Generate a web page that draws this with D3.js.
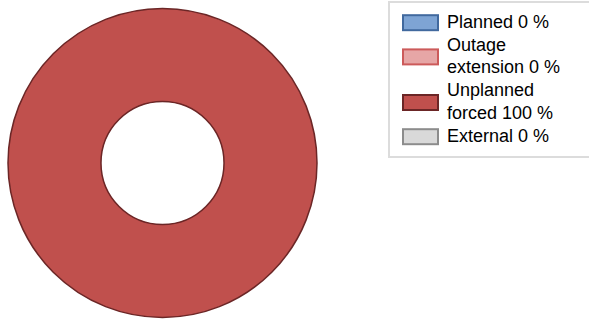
<!DOCTYPE html>
<html>
<head>
<meta charset="utf-8">
<script src="https://cdn.jsdelivr.net/npm/d3@7"></script>
<style>
  html, body { margin: 0; padding: 0; background: #fff; }
  svg { display: block; }
</style>
</head>
<body>
<svg id="chart" width="589" height="320"></svg>
<script>
const categories = ["Planned", "Outage extension", "Unplanned forced", "External"];
const values = [0, 0, 100, 0];
const fills = ["#7ea4d4", "#e6a6a6", "#c0504d", "#d9d9d9"];
const strokes = ["#41699e", "#cc5a5a", "#6b2626", "#8c8c8c"];

const svg = d3.select("#chart");
const cx = 162.5, cy = 163, outerR = 154.5, innerR = 61.5;

const pie = d3.pie().sort(null).value(d => d)(values);
const arc = d3.arc().innerRadius(innerR).outerRadius(outerR);

svg.append("g").attr("transform", `translate(${cx},${cy})`)
  .selectAll("path").data(pie.filter(p => p.value > 0)).join("path")
  .attr("d", arc)
  .attr("fill", d => fills[d.index])
  .attr("stroke", d => strokes[d.index])
  .attr("stroke-width", 1.5);

// legend
const lg = svg.append("g");
lg.append("rect").attr("x", 389).attr("y", 2).attr("width", 210).attr("height", 155)
  .attr("fill", "#fff").attr("stroke", "#dcdcdc").attr("stroke-width", 2);

const total = d3.sum(values);
const labels = categories.map((c, i) => `${c} ${Math.round(values[i] / total * 100)} %`);
const fontSize = 18, lineH = 22.8, maxW = 132, textX = 447;

const meas = svg.append("text").attr("font-family", "Liberation Sans, Arial, sans-serif").attr("font-size", fontSize);
function wrap(str) {
  const words = str.split(" ");
  const lines = [];
  let cur = "";
  words.forEach(w => {
    const t = cur ? cur + " " + w : w;
    meas.text(t);
    if (meas.node().getComputedTextLength() > maxW && cur) { lines.push(cur); cur = w; }
    else cur = t;
  });
  if (cur) lines.push(cur);
  return lines;
}
let baseline = 27.7;
labels.forEach((lab, i) => {
  const lines = wrap(lab);
  const first = baseline;
  const t = lg.append("text").attr("font-family", "Liberation Sans, Arial, sans-serif")
    .attr("font-size", fontSize).attr("fill", "#000");
  lines.forEach((ln, k) => {
    t.append("tspan").attr("x", textX).attr("y", first + k * lineH).text(ln);
  });
  const last = first + (lines.length - 1) * lineH;
  const centre = (first + last) / 2 - 5;
  lg.append("rect").attr("x", 403).attr("y", centre - 7.5).attr("width", 35).attr("height", 15)
    .attr("fill", fills[i]).attr("stroke", strokes[i]).attr("stroke-width", 2);
  baseline = last + lineH;
});
meas.remove();
</script>
</body>
</html>
